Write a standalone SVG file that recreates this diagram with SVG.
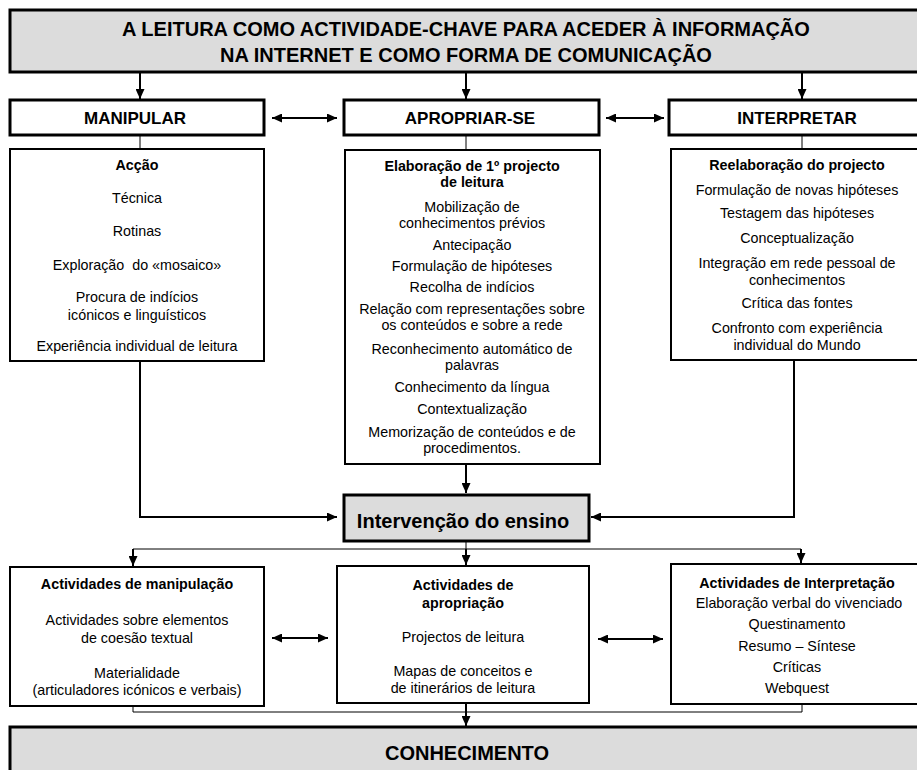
<svg xmlns="http://www.w3.org/2000/svg" width="917" height="770" viewBox="0 0 917 770">
<style>
text{font-family:"Liberation Sans",Arial,sans-serif;fill:#000;text-anchor:middle}
.t{font-size:14.3px}
.b{font-size:14.3px;font-weight:bold}
.h{font-size:17px;font-weight:bold}
.big{font-size:20px;font-weight:bold}
.gray{fill:#dcdcdc;stroke:#000;stroke-width:3}
.hdr{fill:#fff;stroke:#000;stroke-width:3}
.box{fill:#fff;stroke:#000;stroke-width:2}
.arr{fill:none;stroke:#000;stroke-width:2;marker-end:url(#ah)}
.dbl{fill:none;stroke:#000;stroke-width:2;marker-end:url(#ah);marker-start:url(#ah)}
.thin{fill:none;stroke:#000;stroke-width:1}
</style>
<defs>
<marker id="ah" markerUnits="userSpaceOnUse" markerWidth="10" markerHeight="9" refX="10" refY="4.5" orient="auto-start-reverse">
<path d="M0,0 L10,4.5 L0,9 z" fill="#000"/>
</marker>
</defs>

<g id="title">
<rect class="gray" x="10" y="10" width="920" height="62"/>
<text class="big" x="466" y="36">A LEITURA COMO ACTIVIDADE-CHAVE PARA ACEDER À INFORMAÇÃO</text>
<text class="big" x="466" y="62">NA INTERNET E COMO FORMA DE COMUNICAÇÃO</text>
</g>

<g id="manipular">
<rect class="hdr" x="10" y="100" width="254" height="35"/>
<text class="h" x="135" y="124">MANIPULAR</text>
</g>
<g id="apropriar">
<rect class="hdr" x="344" y="100" width="255" height="35"/>
<text class="h" x="470" y="124">APROPRIAR-SE</text>
</g>
<g id="interpretar">
<rect class="hdr" x="669" y="100" width="260" height="35"/>
<text class="h" x="797" y="124">INTERPRETAR</text>
</g>

<g id="accao">
<rect class="box" x="10" y="149" width="254" height="212"/>
<text class="b" x="137" y="170">Acção</text>
<text class="t" x="137" y="203">Técnica</text>
<text class="t" x="137" y="236">Rotinas</text>
<text class="t" x="137" y="270" xml:space="preserve">Exploração  do «mosaico»</text>
<text class="t" x="137" y="302">Procura de indícios</text>
<text class="t" x="137" y="320">icónicos e linguísticos</text>
<text class="t" x="137" y="351">Experiência individual de leitura</text>
</g>

<g id="elaboracao">
<rect class="box" x="345" y="150" width="255" height="314"/>
<text class="b" x="472" y="171">Elaboração de 1º projecto</text>
<text class="b" x="472" y="187">de leitura</text>
<text class="t" x="472" y="212">Mobilização de</text>
<text class="t" x="472" y="228">conhecimentos prévios</text>
<text class="t" x="472" y="250">Antecipação</text>
<text class="t" x="472" y="271">Formulação de hipóteses</text>
<text class="t" x="472" y="292">Recolha de indícios</text>
<text class="t" x="472" y="314">Relação com representações sobre</text>
<text class="t" x="472" y="330">os conteúdos e sobre a rede</text>
<text class="t" x="472" y="354">Reconhecimento automático de</text>
<text class="t" x="472" y="370">palavras</text>
<text class="t" x="472" y="392">Conhecimento da língua</text>
<text class="t" x="472" y="414">Contextualização</text>
<text class="t" x="472" y="437">Memorização de conteúdos e de</text>
<text class="t" x="472" y="453">procedimentos.</text>
</g>

<g id="reelaboracao">
<rect class="box" x="671" y="149" width="260" height="211"/>
<text class="b" x="797" y="170">Reelaboração do projecto</text>
<text class="t" x="797" y="195">Formulação de novas hipóteses</text>
<text class="t" x="797" y="218">Testagem das hipóteses</text>
<text class="t" x="797" y="243">Conceptualização</text>
<text class="t" x="797" y="268">Integração em rede pessoal de</text>
<text class="t" x="797" y="285">conhecimentos</text>
<text class="t" x="797" y="308">Crítica das fontes</text>
<text class="t" x="797" y="333">Confronto com experiência</text>
<text class="t" x="797" y="350">individual do Mundo</text>
</g>

<g id="intervencao">
<rect class="gray" x="344" y="495" width="245" height="46"/>
<text class="big" x="463" y="528">Intervenção do ensino</text>
</g>

<g id="act-manipulacao">
<rect class="box" x="10" y="567" width="254" height="139"/>
<text class="b" x="137" y="589">Actividades de manipulação</text>
<text class="t" x="137" y="625">Actividades sobre elementos</text>
<text class="t" x="137" y="643">de coesão textual</text>
<text class="t" x="137" y="678">Materialidade</text>
<text class="t" x="137" y="695">(articuladores icónicos e verbais)</text>
</g>

<g id="act-apropriacao">
<rect class="box" x="337" y="566" width="252" height="137"/>
<text class="b" x="463" y="590">Actividades de</text>
<text class="b" x="463" y="608">apropriação</text>
<text class="t" x="463" y="642">Projectos de leitura</text>
<text class="t" x="463" y="676">Mapas de conceitos e</text>
<text class="t" x="463" y="693">de itinerários de leitura</text>
</g>

<g id="act-interpretacao">
<rect class="box" x="671" y="564" width="260" height="140"/>
<text class="b" x="797" y="588">Actividades de Interpretação</text>
<text class="t" x="799" y="608">Elaboração verbal do vivenciado</text>
<text class="t" x="797" y="629">Questinamento</text>
<text class="t" x="797" y="651">Resumo – Síntese</text>
<text class="t" x="797" y="672">Críticas</text>
<text class="t" x="797" y="693">Webquest</text>
</g>

<g id="conhecimento">
<rect class="gray" x="10" y="727" width="920" height="60"/>
<text class="big" x="467" y="760">CONHECIMENTO</text>
</g>

<g id="connectors">
<line class="arr" x1="140" y1="73" x2="140" y2="99"/>
<line class="arr" x1="466" y1="73" x2="466" y2="99"/>
<line class="arr" x1="802" y1="73" x2="802" y2="99"/>
<line class="dbl" x1="272" y1="118" x2="337" y2="118"/>
<line class="dbl" x1="606" y1="118" x2="664" y2="118"/>
<line class="thin" x1="140" y1="136" x2="140" y2="149"/>
<line class="thin" x1="466" y1="136" x2="466" y2="150"/>
<line class="thin" x1="802" y1="136" x2="802" y2="149"/>
<polyline class="arr" points="140,361 140,517 337,517"/>
<polyline class="arr" points="794,360 794,517 591,517"/>
<line class="arr" x1="466" y1="464" x2="466" y2="493"/>
<line class="thin" x1="466" y1="542" x2="466" y2="549"/>
<line class="thin" x1="133" y1="549" x2="801" y2="549"/>
<line class="arr" x1="133" y1="549" x2="133" y2="566"/>
<line class="arr" x1="466" y1="549" x2="466" y2="565"/>
<line class="arr" x1="801" y1="549" x2="801" y2="563"/>
<line class="dbl" x1="272" y1="638" x2="328" y2="638"/>
<line class="dbl" x1="598" y1="639" x2="663" y2="639"/>
<polyline class="thin" points="133,707 133,712 802,712 802,705"/>
<line class="arr" x1="466" y1="704" x2="466" y2="726"/>
</g>
</svg>
